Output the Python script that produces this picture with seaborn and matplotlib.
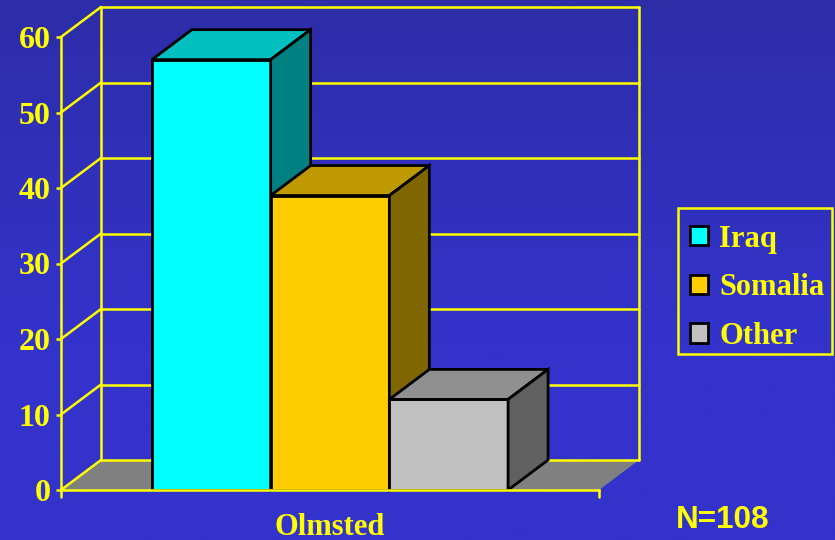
import numpy as np
import pandas as pd
import matplotlib
matplotlib.use("Agg")
import matplotlib.pyplot as plt
import seaborn as sns
from matplotlib.patches import Polygon, Rectangle

# data
region = ["Olmsted"]
countries = ["Iraq", "Somalia", "Other"]
counts = [57, 39, 12]
colors = ["#00ffff", "#ffcc00", "#c0c0c0"]
yticks = [0, 10, 20, 30, 40, 50, 60]

yellow = "#ffff00"
W, H = 835, 540

df = pd.DataFrame({"region": region * 3, "country": countries, "count": counts})

sns.set_style("white")
plt.rcParams["font.family"] = ["Liberation Serif", "DejaVu Serif"]
plt.rcParams["font.weight"] = "bold"

fig = plt.figure(figsize=(W / 100, H / 100), dpi=100)

# background, slightly darker towards the top
bg = fig.add_axes([0, 0, 1, 1], zorder=-1)
bg.axis("off")
grad = np.linspace(0, 1, 256).reshape(-1, 1, 1)
top = np.array([45, 45, 168]) / 255
bottom = np.array([51, 51, 204]) / 255
bg.imshow(top + (bottom - top) * np.clip(grad * 1.6, 0, 1), aspect="auto")

# front plane of the chart
ax = fig.add_axes([61 / W, (H - 490) / H, 538 / W, 453 / H])
ax.patch.set_alpha(0)

sns.barplot(data=df, x="region", y="count", hue="country", hue_order=countries,
            palette=colors, saturation=1, width=0.662, gap=0,
            edgecolor="black", linewidth=2, ax=ax)
ax.set_xlim(-0.5, 0.5)
ax.set_ylim(0, 60)

# bars from seaborn, before the extra faces get added
bars = [p for p in ax.patches if isinstance(p, Rectangle) and p.get_height() > 0]
bars = sorted(bars, key=lambda p: p.get_x())

# depth of the fake 3d, 40px right and 30px up
dx = 40 / 538
dy = 30 / (453 / 60)

# floor
ax.add_patch(Polygon([(-0.5, 0), (-0.5 + dx, dy), (0.5 + dx, dy), (0.5, 0)],
                     facecolor="#808080", edgecolor="none", clip_on=False, zorder=0.5))

# back wall and left wall
for v in yticks:
    ax.plot([-0.5 + dx, 0.5 + dx], [v + dy, v + dy], color=yellow, lw=1.8, clip_on=False, zorder=1)
    ax.plot([-0.5, -0.5 + dx], [v, v + dy], color=yellow, lw=1.8, clip_on=False, zorder=1)
for xv in [-0.5 + dx, 0.5 + dx]:
    ax.plot([xv, xv], [dy, 60 + dy], color=yellow, lw=1.8, clip_on=False, zorder=1)

# top and side faces taken from the seaborn bars
for i, b in enumerate(bars):
    x0, x1, h = b.get_x(), b.get_x() + b.get_width(), b.get_height()
    rgb = np.array(matplotlib.colors.to_rgb(colors[i]))
    b.set_zorder(3 + i)
    ax.add_patch(Polygon([(x0, h), (x0 + dx, h + dy), (x1 + dx, h + dy), (x1, h)],
                         facecolor=rgb * 0.75, edgecolor="black", lw=2, clip_on=False, zorder=3 + i))
    ax.add_patch(Polygon([(x1, 0), (x1 + dx, dy), (x1 + dx, h + dy), (x1, h)],
                         facecolor=rgb * 0.5, edgecolor="black", lw=2, clip_on=False, zorder=3 + i))

# axes
for s in ["top", "right"]:
    ax.spines[s].set_visible(False)
for s in ["left", "bottom"]:
    ax.spines[s].set_color(yellow)
    ax.spines[s].set_linewidth(1.8)
    ax.spines[s].set_zorder(10)

ax.set_yticks(yticks)
ax.set_xlabel("")
ax.set_ylabel("")
ax.tick_params(axis="y", left=True, length=3.5, width=1.8, color=yellow, labelcolor=yellow,
               labelsize=23, pad=4)
ax.tick_params(axis="x", bottom=False, labelcolor=yellow, labelsize=22, pad=13)
# the x axis has end ticks instead of one at the category
for xv in [-0.5, 0.5]:
    ax.plot([xv, xv], [0, -0.9], color=yellow, lw=1.8, clip_on=False, zorder=10)

# legend, box drawn on its own because the padding is not even
leg = ax.legend(bars, countries, loc="upper left",
                bbox_to_anchor=(690 / W, (H - 224.5) / H), bbox_transform=fig.transFigure,
                fontsize=22, frameon=False, labelcolor=yellow, handlelength=0.6, handleheight=0.6,
                handletextpad=0.36, labelspacing=0.64, borderpad=0, borderaxespad=0)
leg.set_zorder(20)
fig.add_artist(Rectangle((677.5 / W, (H - 354) / H), 154.5 / W, 146 / H, transform=fig.transFigure,
                         facecolor="none", edgecolor=yellow, lw=1.8))

fig.text(676 / W, (H - 520) / H, "N=108", color=yellow, fontsize=22.7, fontweight="bold",
         family=["Liberation Sans", "DejaVu Sans"], ha="left", va="center")

fig.savefig("out.png", dpi=100)
